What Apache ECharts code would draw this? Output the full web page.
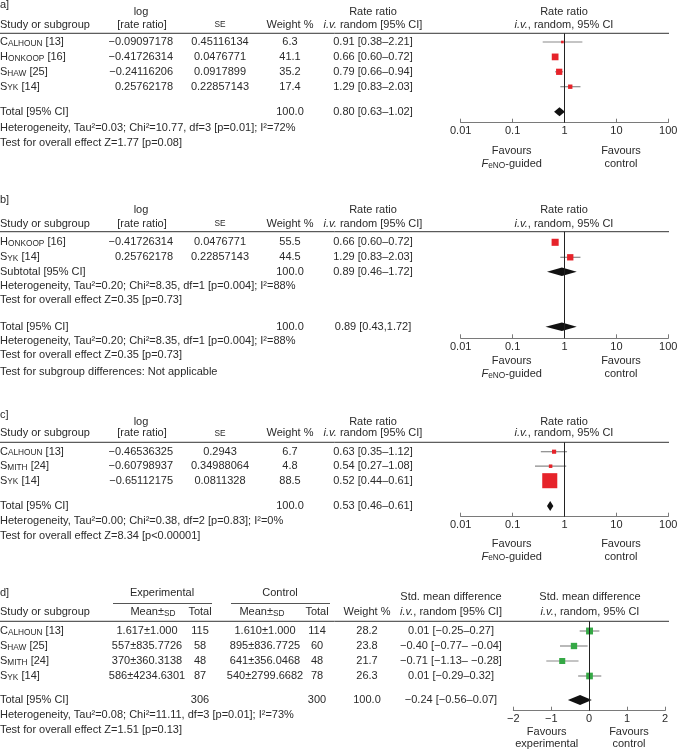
<!DOCTYPE html>
<html><head><meta charset="utf-8">
<script src="https://cdn.jsdelivr.net/npm/echarts@6.0.0/dist/echarts.min.js"></script>
<style>html,body{margin:0;padding:0;background:#fff}#c{width:679px;height:751px}</style>
</head><body><div id="c"></div>
<script>
// ===== Panel a =====
const aNames = ['Calhoun','Honkoop','Shaw','Syk'];
const aRefs = ['[13]','[16]','[25]','[14]'];
const aLogRR = ['−0.09097178','−0.41726314','−0.24116206','0.25762178'];
const aSE = ['0.45116134','0.0476771','0.0917899','0.22857143'];
const aWeight = [6.3, 41.1, 35.2, 17.4];
const aRR = [0.91, 0.66, 0.79, 1.29];
const aLo = [0.38, 0.60, 0.66, 0.83];
const aHi = [2.21, 0.72, 0.94, 2.03];
const aTotal = [0.80, 0.63, 1.02];
const aHet = 'Heterogeneity, Tau²=0.03; Chi²=10.77, df=3 [p=0.01]; I²=72%';
const aTest = 'Test for overall effect Z=1.77 [p=0.08]';

// ===== Panel b =====
const bNames = ['Honkoop','Syk'];
const bRefs = ['[16]','[14]'];
const bLogRR = ['−0.41726314','0.25762178'];
const bSE = ['0.0476771','0.22857143'];
const bWeight = [55.5, 44.5];
const bRR = [0.66, 1.29];
const bLo = [0.60, 0.83];
const bHi = [0.72, 2.03];
const bSubtotal = [0.89, 0.46, 1.72];
const bTotal = [0.89, 0.43, 1.72];
const bHet = 'Heterogeneity, Tau²=0.20; Chi²=8.35, df=1 [p=0.004]; I²=88%';
const bTest = 'Test for overall effect Z=0.35 [p=0.73]';
const bSubDiff = 'Test for subgroup differences: Not applicable';

// ===== Panel c =====
const cNames = ['Calhoun','Smith','Syk'];
const cRefs = ['[13]','[24]','[14]'];
const cLogRR = ['−0.46536325','−0.60798937','−0.65112175'];
const cSE = ['0.2943','0.34988064','0.0811328'];
const cWeight = [6.7, 4.8, 88.5];
const cRR = [0.63, 0.54, 0.52];
const cLo = [0.35, 0.27, 0.44];
const cHi = [1.12, 1.08, 0.61];
const cTotal = [0.53, 0.46, 0.61];
const cHet = 'Heterogeneity, Tau²=0.00; Chi²=0.38, df=2 [p=0.83]; I²=0%';
const cTest = 'Test for overall effect Z=8.34 [p<0.00001]';

// ===== Panel d =====
const dNames = ['Calhoun','Shaw','Smith','Syk'];
const dRefs = ['[13]','[25]','[24]','[14]'];
const dExpMeanSD = ['1.617±1.000','557±835.7726','370±360.3138','586±4234.6301'];
const dExpN = [115, 58, 48, 87];
const dCtlMeanSD = ['1.610±1.000','895±836.7725','641±356.0468','540±2799.6682'];
const dCtlN = [114, 60, 48, 78];
const dWeight = [28.2, 23.8, 21.7, 26.3];
const dSMD = [0.01, -0.40, -0.71, 0.01];
const dLo = [-0.25, -0.77, -1.13, -0.29];
const dHi = [0.27, -0.04, -0.28, 0.32];
const dTotal = [-0.24, -0.56, 0.07];
const dTotalN = [306, 300];
const dHet = 'Heterogeneity, Tau²=0.08; Chi²=11.11, df=3 [p=0.01]; I²=73%';
const dTest = 'Test for overall effect Z=1.51 [p=0.13]';

const rrTicks = ['0.01','0.1','1','10','100'];
const smdTicks = ['−2','−1','0','1','2'];

// ===== styling / layout =====
const FONT = '"Liberation Sans", Arial, sans-serif';
const FS = 11, SCS = 8.3;
const COL = '#2a2a2a';
const RED = '#e6232a', GREEN = '#35a845', CIC = '#8a8a8a';
const RICH = {
  n: {fontSize: FS, fontFamily: FONT, fill: COL, verticalAlign: 'bottom'},
  s: {fontSize: SCS, fontFamily: FONT, fill: COL, verticalAlign: 'bottom'},
  i: {fontSize: FS, fontFamily: FONT, fill: COL, fontStyle: 'italic', verticalAlign: 'bottom'}
};
const G = [];
function esc(t){ return String(t).replace(/[{}|]/g, ''); }
function T(x, y, rich, align) {
  G.push({type: 'text', x: x, y: y, silent: true, z: 10,
    style: {text: rich, fill: COL, fontSize: FS, fontFamily: FONT,
      textAlign: align || 'left', textVerticalAlign: 'middle', rich: RICH}});
}
function N(t){ return '{n|' + esc(t) + '}'; }
function SC(t){ return '{s|' + esc(t) + '}'; }
function I(t){ return '{i|' + esc(t) + '}'; }
function study(name, ref){ return N(name[0]) + SC(name.slice(1).toUpperCase()) + N(' ' + ref); }
function Ln(x1, y1, x2, y2, color) {
  G.push({type: 'line', silent: true, shape: {x1: x1, y1: y1, x2: x2, y2: y2},
    style: {stroke: color || '#333', lineWidth: 1}});
}
function mn(v){ return v < 0 ? '−' + Math.abs(v).toFixed(2) : v.toFixed(2); }
function ciRR(e, l, h){ return e.toFixed(2) + ' [' + l.toFixed(2) + '–' + h.toFixed(2) + ']'; }
function ciSMD(e, l, h){ return mn(e) + ' [' + mn(l) + '–' + (h < 0 ? ' ' : '') + mn(h) + ']'; }

const RR_L = 460.7, RR_R = 679 - 668.3, SMD_L = 513.3, SMD_R = 679 - 665;
const SEPX2 = 669;
const P = {
  a: {sep: 33.3, row0: 42, rowH: 14.9, axis: 122.7, total: 4.68},
  b: {sep: 231.7, row0: 242.3, rowH: 15, axis: 338.3, sub: 1.96, total: 5.63},
  c: {sep: 442.3, row0: 451.7, rowH: 14.5, axis: 516.7, total: 3.74},
  d: {sep: 621.3, row0: 631, rowH: 15, axis: 710.7, total: 4.6}
};
function rowY(p, r){ return p.row0 + r * p.rowH; }

// ===== text tables, panels a-c =====
function rrPanel(p, letter, yLetter, yLog, yHead, names, refs, logrr, se, w, rr, lo, hi) {
  T(0, yLetter, N(letter + ']'));
  T(141, yLog, N('log'), 'center');
  T(0, yHead, N('Study or subgroup'));
  T(142, yHead, N('[rate ratio]'), 'center');
  T(220, yHead, SC('SE'), 'center');
  T(290, yHead, N('Weight %'), 'center');
  T(373, yLog, N('Rate ratio'), 'center');
  T(373, yHead, I('i.v.') + N(' random [95% CI]'), 'center');
  T(564, yLog, N('Rate ratio'), 'center');
  T(564, yHead, I('i.v.') + N(', random, 95% CI'), 'center');
  Ln(0, p.sep, SEPX2, p.sep);
  names.forEach(function(nm, i) {
    const y = rowY(p, i);
    T(0, y, study(nm, refs[i]));
    T(173, y, N(logrr[i]), 'right');
    T(220, y, N(se[i]), 'center');
    T(290, y, N(w[i].toFixed(1)), 'center');
    T(373, y, N(ciRR(rr[i], lo[i], hi[i])), 'center');
  });
}
function favours(yA, yB, xl, xr, l2) {
  T(xl, yA, N('Favours'), 'center');
  T(xr, yA, N('Favours'), 'center');
  T(xl, yB, l2, 'center');
  T(xr, yB, N('control'), 'center');
}
const feno = I('F') + SC('eNO') + N('-guided');

// a
rrPanel(P.a, 'a', 4.5, 12, 25, aNames, aRefs, aLogRR, aSE, aWeight, aRR, aLo, aHi);
(function(){ const y = rowY(P.a, P.a.total);
  T(0, y, N('Total [95% CI]')); T(290, y, N((100).toFixed(1)), 'center');
  T(373, y, N(ciRR(aTotal[0], aTotal[1], aTotal[2])), 'center');
  T(0, 127.7, N(aHet)); T(0, 143.3, N(aTest));
})();
favours(151, 164, 511.7, 621, feno);

// b
rrPanel(P.b, 'b', 200, 210, 224, bNames, bRefs, bLogRR, bSE, bWeight, bRR, bLo, bHi);
(function(){ let y = rowY(P.b, P.b.sub);
  T(0, y, N('Subtotal [95% CI]')); T(290, y, N((100).toFixed(1)), 'center');
  T(373, y, N(ciRR(bSubtotal[0], bSubtotal[1], bSubtotal[2])), 'center');
  T(0, 285.7, N(bHet)); T(0, 300, N(bTest));
  y = rowY(P.b, P.b.total);
  T(0, y, N('Total [95% CI]')); T(290, y, N((100).toFixed(1)), 'center');
  T(373, y, N(bTotal[0].toFixed(2) + ' [' + bTotal[1].toFixed(2) + ',' + bTotal[2].toFixed(2) + ']'), 'center');
  T(0, 340.7, N(bHet)); T(0, 355, N(bTest)); T(0, 371.7, N(bSubDiff));
})();
favours(360.7, 374.3, 511.7, 621, feno);

// c
rrPanel(P.c, 'c', 415, 421.7, 433.3, cNames, cRefs, cLogRR, cSE, cWeight, cRR, cLo, cHi);
(function(){ const y = rowY(P.c, P.c.total);
  T(0, y, N('Total [95% CI]')); T(290, y, N((100).toFixed(1)), 'center');
  T(373, y, N(ciRR(cTotal[0], cTotal[1], cTotal[2])), 'center');
  T(0, 521, N(cHet)); T(0, 535.7, N(cTest));
})();
favours(544, 556.7, 511.7, 621, feno);

// d
(function(){
  const p = P.d;
  T(0, 593.3, N('d]'));
  T(162, 593.3, N('Experimental'), 'center');
  T(280, 593.3, N('Control'), 'center');
  Ln(113, 603.5, 212, 603.5, '#555'); Ln(231, 603.5, 330, 603.5, '#555');
  T(0, 612.3, N('Study or subgroup'));
  T(153, 612.3, N('Mean±') + SC('SD'), 'center');
  T(200, 612.3, N('Total'), 'center');
  T(262, 612.3, N('Mean±') + SC('SD'), 'center');
  T(317, 612.3, N('Total'), 'center');
  T(367, 612.3, N('Weight %'), 'center');
  T(451, 596.7, N('Std. mean difference'), 'center');
  T(451, 611.7, I('i.v.') + N(', random [95% CI]'), 'center');
  T(590, 596.7, N('Std. mean difference'), 'center');
  T(590, 611.7, I('i.v.') + N(', random, 95% CI'), 'center');
  Ln(0, p.sep, SEPX2, p.sep);
  dNames.forEach(function(nm, i) {
    const y = rowY(p, i);
    T(0, y, study(nm, dRefs[i]));
    T(147, y, N(dExpMeanSD[i]), 'center');
    T(200, y, N(dExpN[i]), 'center');
    T(265, y, N(dCtlMeanSD[i]), 'center');
    T(317, y, N(dCtlN[i]), 'center');
    T(367, y, N(dWeight[i].toFixed(1)), 'center');
    T(451, y, N(ciSMD(dSMD[i], dLo[i], dHi[i])), 'center');
  });
  const y = rowY(p, p.total);
  T(0, y, N('Total [95% CI]'));
  T(200, y, N(dTotalN[0]), 'center');
  T(317, y, N(dTotalN[1]), 'center');
  T(367, y, N((100).toFixed(1)), 'center');
  T(451, y, N(ciSMD(dTotal[0], dTotal[1], dTotal[2])), 'center');
  T(0, 715, N(dHet)); T(0, 730, N(dTest));
  favours(731.7, 744.3, 546.7, 629, N('experimental'));
})();

// ===== plots =====
function studyRender(color, k) {
  return function(params, api) {
    const y = api.value(4);
    const p = api.coord([api.value(0), y]);
    const pl = api.coord([api.value(1), y]);
    const ph = api.coord([api.value(2), y]);
    const s = k * Math.sqrt(api.value(3));
    return {type: 'group', children: [
      {type: 'line', shape: {x1: pl[0], y1: p[1], x2: ph[0], y2: p[1]}, style: {stroke: CIC, lineWidth: 1.2}},
      {type: 'rect', shape: {x: p[0] - s / 2, y: p[1] - s / 2, width: s, height: s}, style: {fill: color}}
    ]};
  };
}
function diamondRender(h) {
  return function(params, api) {
    const y = api.value(3);
    const p = api.coord([api.value(0), y]);
    const pl = api.coord([api.value(1), y]);
    const ph = api.coord([api.value(2), y]);
    return {type: 'polygon', shape: {points: [[pl[0], p[1]], [p[0], p[1] - h / 2], [ph[0], p[1]], [p[0], p[1] + h / 2]]},
      style: {fill: '#111'}};
  };
}
function rows(est, lo, hi, w){ return est.map(function(v, i){ return [v, lo[i], hi[i], w[i], i]; }); }

const grids = [], xAxes = [], yAxes = [], series = [];
function addPanel(p, isLog, left, right, studyData, color, k, diamonds, dh) {
  const gi = grids.length;
  grids.push({left: left, right: right, top: p.sep, height: p.axis - p.sep, outerBoundsMode: 'none', containLabel: false});
  const common = {
    gridIndex: gi, position: 'bottom',
    axisLine: {onZero: false, lineStyle: {color: '#7a7a7a', width: 1}},
    axisTick: {show: true, inside: true, length: 4, lineStyle: {color: '#7a7a7a'}},
    splitLine: {show: false}
  };
  xAxes.push(isLog ? Object.assign({
    type: 'log', logBase: 10, min: 0.01, max: 100,
    axisLabel: {margin: 3, color: COL, fontSize: FS, fontFamily: FONT,
      formatter: function(v){ return rrTicks[Math.round(Math.log10(v)) + 2]; }}
  }, common) : Object.assign({
    type: 'value', min: -2, max: 2, interval: 1,
    axisLabel: {margin: 3, color: COL, fontSize: FS, fontFamily: FONT,
      formatter: function(v){ return smdTicks[Math.round(v) + 2]; }}
  }, common));
  yAxes.push({type: 'value', gridIndex: gi, inverse: true, show: false,
    min: (p.sep - p.row0) / p.rowH, max: (p.axis - p.row0) / p.rowH});
  series.push({type: 'custom', xAxisIndex: gi, yAxisIndex: gi, silent: true, clip: false,
    renderItem: studyRender(color, k), data: studyData, encode: {x: [0, 1, 2], y: 4}, z: 3,
    markLine: {silent: true, symbol: 'none', animation: false, label: {show: false},
      lineStyle: {color: '#222', width: 1, type: 'solid'}, data: [{xAxis: isLog ? 1 : 0}]}});
  series.push({type: 'custom', xAxisIndex: gi, yAxisIndex: gi, silent: true, clip: false,
    renderItem: diamondRender(dh), data: diamonds, encode: {x: [0, 1, 2], y: 3}, z: 4});
}
addPanel(P.a, true, RR_L, RR_R, rows(aRR, aLo, aHi, aWeight), RED, 1.05,
  [[aTotal[0], aTotal[1], aTotal[2], P.a.total]], 9);
addPanel(P.b, true, RR_L, RR_R, rows(bRR, bLo, bHi, bWeight), RED, 0.95,
  [[bSubtotal[0], bSubtotal[1], bSubtotal[2], P.b.sub], [bTotal[0], bTotal[1], bTotal[2], P.b.total]], 8.5);
addPanel(P.c, true, RR_L, RR_R, rows(cRR, cLo, cHi, cWeight), RED, 1.6,
  [[cTotal[0], cTotal[1], cTotal[2], P.c.total]], 10);
addPanel(P.d, false, SMD_L, SMD_R, rows(dSMD, dLo, dHi, dWeight), GREEN, 1.3,
  [[dTotal[0], dTotal[1], dTotal[2], P.d.total]], 10);

const chart = echarts.init(document.getElementById('c'), null, {renderer: 'canvas'});
chart.setOption({
  animation: false,
  backgroundColor: '#fff',
  grid: grids, xAxis: xAxes, yAxis: yAxes, series: series,
  graphic: G
});
</script></body></html>
